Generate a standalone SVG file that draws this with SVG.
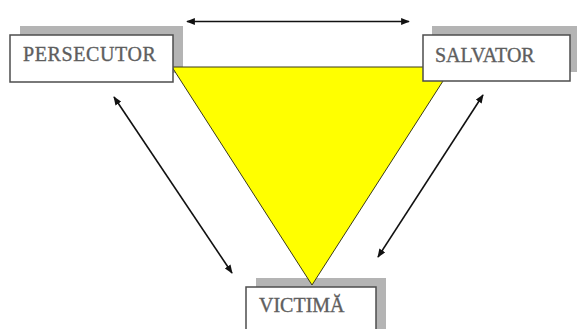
<svg xmlns="http://www.w3.org/2000/svg" width="577" height="329" viewBox="0 0 577 329">
  <style>
    .shadow { fill: #b4b4b4; }
    .box { fill: #ffffff; stroke: #4d4d4d; stroke-width: 1.5; }
    .label { font-family: "Liberation Serif", "Times New Roman", serif; font-size: 20px; fill: #5e5e5e; stroke: #5e5e5e; stroke-width: 0.35; }
    .conn { stroke: #111; stroke-width: 1.6; fill: none; marker-start: url(#ah); marker-end: url(#ah); }
    .tri { fill: #ffff00; stroke: #3a3a1a; stroke-width: 1; }
  </style>
  <defs>
    <marker id="ah" viewBox="0 0 10 8" refX="9" refY="4" markerWidth="9" markerHeight="7" markerUnits="userSpaceOnUse" orient="auto-start-reverse">
      <path d="M0,0 L10,4 L0,8 Z" fill="#111"/>
    </marker>
  </defs>
  <rect width="577" height="329" fill="#ffffff"/>
  <g id="shadows">
    <rect class="shadow" x="20" y="26" width="163" height="47"/>
    <rect class="shadow" x="432" y="26" width="150" height="46"/>
    <rect class="shadow" x="256" y="278" width="130" height="60"/>
  </g>
  <g id="triangle">
    <polygon class="tri" points="172,67 452,67 312,285"/>
  </g>
  <g id="persecutor">
    <rect class="box" x="10" y="35" width="163" height="47"/>
    <text class="label" x="23" y="61" letter-spacing="0.6">PERSECUTOR</text>
  </g>
  <g id="salvator">
    <rect class="box" x="423" y="35" width="147" height="46"/>
    <text class="label" x="435" y="62">SALVATOR</text>
  </g>
  <g id="victima">
    <rect class="box" x="246" y="287" width="130" height="60"/>
    <text class="label" x="259" y="312">VICTIMĂ</text>
  </g>
  <g id="connectors">
    <line class="conn" x1="187" y1="21.5" x2="409" y2="21.5"/>
    <line class="conn" x1="114" y1="97" x2="232" y2="273"/>
    <line class="conn" x1="483" y1="95" x2="378" y2="257"/>
  </g>
</svg>
